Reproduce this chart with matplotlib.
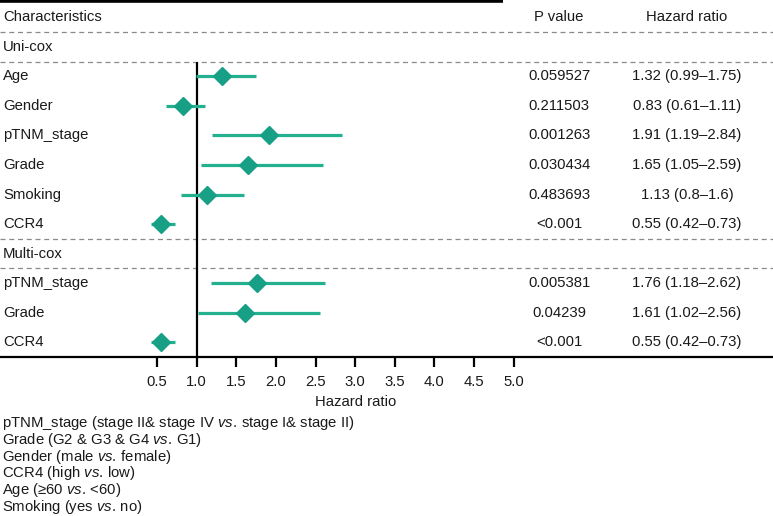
import matplotlib
matplotlib.use("Agg")
import matplotlib.pyplot as plt
import matplotlib.transforms as mtransforms

plt.rcParams["font.family"] = ["Liberation Sans", "DejaVu Sans"]
plt.rcParams["mathtext.fontset"] = "custom"
plt.rcParams["mathtext.rm"] = "Liberation Sans"
plt.rcParams["mathtext.it"] = "Liberation Sans:italic"

# data
uni_labels = ["Age", "Gender", "pTNM_stage", "Grade", "Smoking", "CCR4"]
uni_hr = [1.32, 0.83, 1.91, 1.65, 1.13, 0.55]
uni_lo = [0.99, 0.61, 1.19, 1.05, 0.8, 0.42]
uni_hi = [1.75, 1.11, 2.84, 2.59, 1.6, 0.73]
uni_p = ["0.059527", "0.211503", "0.001263", "0.030434", "0.483693", "<0.001"]

multi_labels = ["pTNM_stage", "Grade", "CCR4"]
multi_hr = [1.76, 1.61, 0.55]
multi_lo = [1.18, 1.02, 0.42]
multi_hi = [2.62, 2.56, 0.73]
multi_p = ["0.005381", "0.04239", "<0.001"]

xticks = [0.5, 1.0, 1.5, 2.0, 2.5, 3.0, 3.5, 4.0, 4.5, 5.0]

VS = "$\\mathit{vs.}\\,$"
footnotes = [
    "pTNM_stage (stage II& stage IV " + VS + "stage I& stage II)",
    "Grade (G2 & G3 & G4 " + VS + "G1)",
    "Gender (male " + VS + "female)",
    "CCR4 (high " + VS + "low)",
    "Age (≥60 " + VS + "<60)",
    "Smoking (yes " + VS + "no)",
]

W, H = 773, 516
fig = plt.figure(figsize=(W / 100, H / 100), dpi=100)
ax = fig.add_axes([0, (H - 357) / H, 1, 356 / H])
ax.set_xlim(-1.484, 8.276)
ax.set_ylim(11.5, -0.55)

fs = 10.7
mark_col = "#17a085"
line_col = "#22b08f"
txt_col = "#1a1a1a"

rows = []
sections = [("Uni-cox", uni_labels, uni_hr, uni_lo, uni_hi, uni_p),
            ("Multi-cox", multi_labels, multi_hr, multi_lo, multi_hi, multi_p)]
tr = mtransforms.blended_transform_factory(ax.transAxes, ax.transData)

r = 1
sep_rows = [0.5]
for name, labs, hrs, los, his, ps in sections:
    ax.text(0.004, r, name, transform=tr, va="center", ha="left", fontsize=fs, color=txt_col)
    sep_rows.append(r + 0.5)
    r += 1
    for lab, h, lo, hi, p in zip(labs, hrs, los, his, ps):
        rows.append((r, lab, h, lo, hi, p))
        r += 1
    sep_rows.append(r - 0.5)
sep_rows = sep_rows[:-1]

# header
ax.text(0.004, 0, "Characteristics", transform=tr, va="center", ha="left", fontsize=fs, color=txt_col)
ax.text(0.7232, 0, "P value", transform=tr, va="center", ha="center", fontsize=fs, color=txt_col)
ax.text(0.8887, 0, "Hazard ratio", transform=tr, va="center", ha="center", fontsize=fs, color=txt_col)

for y in sep_rows:
    ax.axhline(y, color="#8a8a8a", lw=0.9, dashes=(4, 3))

ax.vlines(1.0, 1.5, 11.5, color="black", lw=1.6, zorder=2)

for y, lab, h, lo, hi, p in rows:
    ax.plot([lo, hi], [y, y], color=line_col, lw=2.3, solid_capstyle="butt", zorder=3)
    ax.plot(h, y, marker="D", ms=9.2, color=mark_col, mec=mark_col, zorder=4)
    ax.text(0.004, y, lab, transform=tr, va="center", ha="left", fontsize=fs, color=txt_col)
    ax.text(0.7232, y, p, transform=tr, va="center", ha="center", fontsize=fs, color=txt_col)
    ax.text(0.8887, y, f"{h:g} ({lo:g}\u2013{hi:g})", transform=tr, va="center", ha="center",
            fontsize=fs, color=txt_col)

# top rule
ax.plot([0, 503 / W], [1, 1], transform=ax.transAxes, color="black", lw=2.6, clip_on=False,
        solid_capstyle="butt")

for s in ["top", "left", "right"]:
    ax.spines[s].set_visible(False)
ax.spines["bottom"].set_linewidth(1.6)
ax.set_yticks([])
ax.set_xticks(xticks)
ax.set_xticklabels([f"{t:.1f}" for t in xticks], fontsize=fs, color=txt_col)
ax.tick_params(axis="x", direction="out", length=7, width=1.6, pad=6)

ax.text(3.0, 1 - 402 / H, "Hazard ratio",
        transform=mtransforms.blended_transform_factory(ax.transData, fig.transFigure),
        va="center", ha="center", fontsize=fs, color=txt_col)

for i, line in enumerate(footnotes):
    fig.text(0.002, 1 - (423 + 16.8 * i) / H, line, va="center", ha="left", fontsize=fs, color=txt_col)

fig.savefig("out.png", dpi=100)
